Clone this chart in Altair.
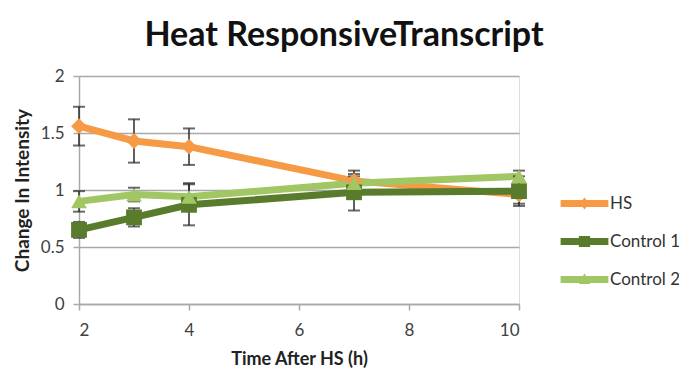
import altair as alt
import pandas as pd

hours = [2, 3, 4, 7, 10]
series_names = ["HS", "Control 1", "Control 2"]
hs_values = [1.56, 1.43, 1.38, 1.08, 0.96]
hs_errors = [0.17, 0.19, 0.16, 0.09, 0.08]
control1_values = [0.65, 0.76, 0.87, 0.98, 0.99]
control1_errors = [0.07, 0.08, 0.18, 0.16, 0.13]
control2_values = [0.90, 0.96, 0.94, 1.06, 1.12]
control2_errors = [0.09, 0.06, 0.12, 0.06, 0.05]
colors = ["#F79A46", "#587B2C", "#A1C664"]
marker_shapes = ["diamond", "square", "triangle-up"]
legend_shapes = [
    "M-1.7,-0.25L1.7,-0.25L1.7,0.25L-1.7,0.25Z M0,-0.42L0.34,0L0,0.42L-0.34,0Z",
    "M-1.7,-0.25L1.7,-0.25L1.7,0.25L-1.7,0.25Z M-0.4,-0.4L0.4,-0.4L0.4,0.4L-0.4,0.4Z",
    "M-1.7,-0.25L1.7,-0.25L1.7,0.25L-1.7,0.25Z M0,-0.45L0.4,0.32L-0.4,0.32Z",
]

rows = []
for name, vals, errs in [
    ("HS", hs_values, hs_errors),
    ("Control 1", control1_values, control1_errors),
    ("Control 2", control2_values, control2_errors),
]:
    for h, v, e in zip(hours, vals, errs):
        rows.append({"hours": h, "value": v, "lo": v - e, "hi": v + e, "series": name})
df = pd.DataFrame(rows)

FONT = "Lato"
grid_color = "#A9A9A9"

x_enc = alt.X(
    "hours:Q",
    scale=alt.Scale(domain=[2, 10], nice=False, zero=False),
    axis=alt.Axis(
        values=[2, 4, 6, 8, 10], title="Time After HS (h)", grid=False,
        domainColor=grid_color, domainWidth=1.5, tickColor=grid_color, tickWidth=1.5,
        tickSize=6, labelFontSize=17, labelColor="#404040", labelPadding=12,
        titleFontSize=18, titleFontWeight="bold", titleColor="#222222", titlePadding=12,
        labelFont=FONT, titleFont=FONT,
    ),
)
y_axis = alt.Axis(
    values=[0, 0.5, 1, 1.5, 2], format="~g", title="Change In Intensity", grid=True,
    gridColor=grid_color, gridWidth=1.5,
    domainColor=grid_color, domainWidth=1.5, tickColor=grid_color, tickWidth=1.5,
    tickSize=6, labelFontSize=17, labelColor="#404040", labelPadding=9,
    titleFontSize=19, titleFontWeight="bold", titleColor="#222222", titlePadding=8,
    labelFont=FONT, titleFont=FONT,
)
y_scale = alt.Scale(domain=[0, 2], nice=False)
color_scale = alt.Scale(domain=series_names, range=colors)
shape_scale = alt.Scale(domain=series_names, range=legend_shapes)

base = alt.Chart(df)

line_layers = []
point_layers = []
for name, col, shp in zip(series_names, colors, marker_shapes):
    sub = base.transform_filter(alt.datum.series == name)
    line_layers.append(
        sub.mark_line(strokeWidth=7, color=col).encode(
            x=x_enc,
            y=alt.Y("value:Q", scale=y_scale, axis=y_axis),
        )
    )
    point_layers.append(
        sub.mark_point(filled=True, size=250, opacity=1, shape=shp, color=col).encode(
            x=x_enc,
            y=alt.Y("value:Q", scale=y_scale, axis=y_axis),
        )
    )

errbars = base.mark_errorbar(
    ticks={"size": 12, "thickness": 2, "color": "#2b2b2b"},
    rule={"strokeWidth": 1.5, "color": "#2b2b2b"},
).encode(
    x=x_enc,
    y=alt.Y("lo:Q", scale=y_scale, axis=y_axis),
    y2="hi:Q",
)

legend_def = alt.Legend(
    title=None, orient="none", legendX=491, legendY=113,
    symbolSize=790, symbolOpacity=1, labelFontSize=17, labelFont=FONT,
    labelColor="#333333", labelOffset=11, rowPadding=15, symbolStrokeWidth=0,
)
legend_layer = base.transform_filter("datum.value < -100").mark_point(filled=True, opacity=1).encode(
    x=x_enc,
    y=alt.Y("value:Q", scale=y_scale, axis=y_axis),
    color=alt.Color("series:N", scale=color_scale, legend=legend_def),
    shape=alt.Shape("series:N", scale=shape_scale, legend=legend_def),
)

chart = (
    alt.layer(*line_layers, errbars, *point_layers, legend_layer)
    .properties(
        width=440, height=228,
        autosize=alt.AutoSizeParams(type="none"),
        padding={"left": 71, "top": 68, "right": 160, "bottom": 66},
        title=alt.TitleParams(
            "Heat ResponsiveTranscript", font=FONT, fontSize=34, fontWeight="bold",
            color="#111111", anchor="middle", dx=45, offset=14,
        ),
    )
    .configure_view(stroke=None)
    .configure(background="white")
)

chart.save("out.html", embed_options={"renderer": "svg", "actions": False})
